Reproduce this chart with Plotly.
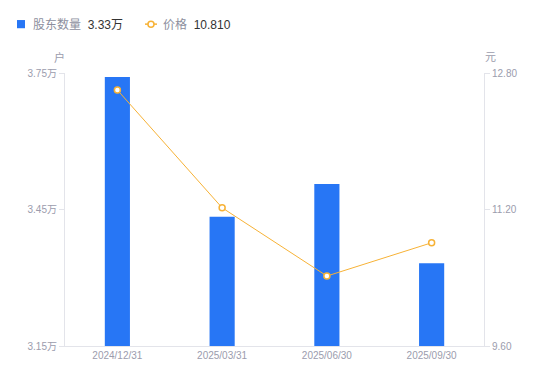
import plotly.graph_objects as go

categories = ["2024/12/31", "2025/03/31", "2025/06/30", "2025/09/30"]
holders = [3.741, 3.434, 3.506, 3.332]
price = [12.60, 11.22, 10.42, 10.81]
left_ticks = [3.15, 3.45, 3.75]
left_labels = ["3.15万", "3.45万", "3.75万"]
right_ticks = [9.60, 11.20, 12.80]
right_labels = ["9.60", "11.20", "12.80"]

BLUE = "#2776f5"
ORANGE = "#f7b236"
GRAY = "#9b9cad"
AXIS = "#e3e4ea"
FONT = "Liberation Sans, Arial, Noto Sans CJK SC, sans-serif"

fig = go.Figure()
fig.add_trace(go.Bar(x=categories, y=holders, marker=dict(color=BLUE, line=dict(width=0)),
                     width=0.24, yaxis="y", name="股东数量"))
fig.add_trace(go.Scatter(x=categories, y=price, mode="lines+markers", yaxis="y2",
                         line=dict(color=ORANGE, width=1),
                         marker=dict(size=6, color="white", line=dict(color=ORANGE, width=1.5)),
                         name="价格"))

fig.update_layout(
    width=550, height=381,
    margin=dict(l=57, r=74, t=65, b=43),
    paper_bgcolor="white", plot_bgcolor="white",
    showlegend=False,
    font=dict(family=FONT, size=10, color=GRAY),
    xaxis=dict(type="category", showgrid=False, showline=True, linecolor=AXIS, linewidth=1,
               ticks="", tickfont=dict(size=10, color=GRAY), zeroline=False),
    yaxis=dict(range=[3.15, 3.75], tickvals=left_ticks, ticktext=left_labels, showgrid=False,
               showline=True, linecolor=AXIS, linewidth=1, ticks="outside", ticklen=5,
               tickcolor=AXIS, tickfont=dict(size=10, color=GRAY), zeroline=False),
    yaxis2=dict(range=[9.60, 12.80], tickvals=right_ticks, ticktext=right_labels, overlaying="y",
                side="right", showgrid=False, showline=True, linecolor=AXIS, linewidth=1,
                ticks="outside", ticklen=5, tickcolor=AXIS, tickfont=dict(size=10, color=GRAY),
                zeroline=False),
)

# axis unit titles
fig.add_annotation(text="户", xref="paper", yref="paper", x=0, y=1, xshift=-6, yshift=16,
                   showarrow=False, xanchor="center", yanchor="middle",
                   font=dict(size=11, color=GRAY))
fig.add_annotation(text="元", xref="paper", yref="paper", x=1, y=1, xshift=6, yshift=16,
                   showarrow=False, xanchor="center", yanchor="middle",
                   font=dict(size=11, color=GRAY))

# custom legend
fig.add_shape(type="rect", xref="paper", yref="paper", x0=-0.1146, x1=-0.0955,
              y0=1.164, y1=1.194, fillcolor=BLUE, line=dict(width=0))
fig.add_annotation(text="股东数量 <span style='color:#333333'>&nbsp;3.33万</span>", xref="paper", yref="paper",
                   x=-0.0811, y=1.179, xanchor="left", yanchor="middle", showarrow=False,
                   font=dict(size=12, color="#8d8f9e"))
fig.add_shape(type="line", xref="paper", yref="paper", x0=0.1909, x1=0.2196,
              y0=1.179, y1=1.179, line=dict(color=ORANGE, width=1.5))
fig.add_shape(type="circle", xref="paper", yref="paper", x0=0.1980, x1=0.2124,
              y0=1.168, y1=1.190, fillcolor="white", line=dict(color=ORANGE, width=1.5))
fig.add_annotation(text="价格 <span style='color:#333333'>&nbsp;10.810</span>", xref="paper", yref="paper",
                   x=0.2291, y=1.179, xanchor="left", yanchor="middle", showarrow=False,
                   font=dict(size=12, color="#8d8f9e"))

fig.write_html("out.html")
